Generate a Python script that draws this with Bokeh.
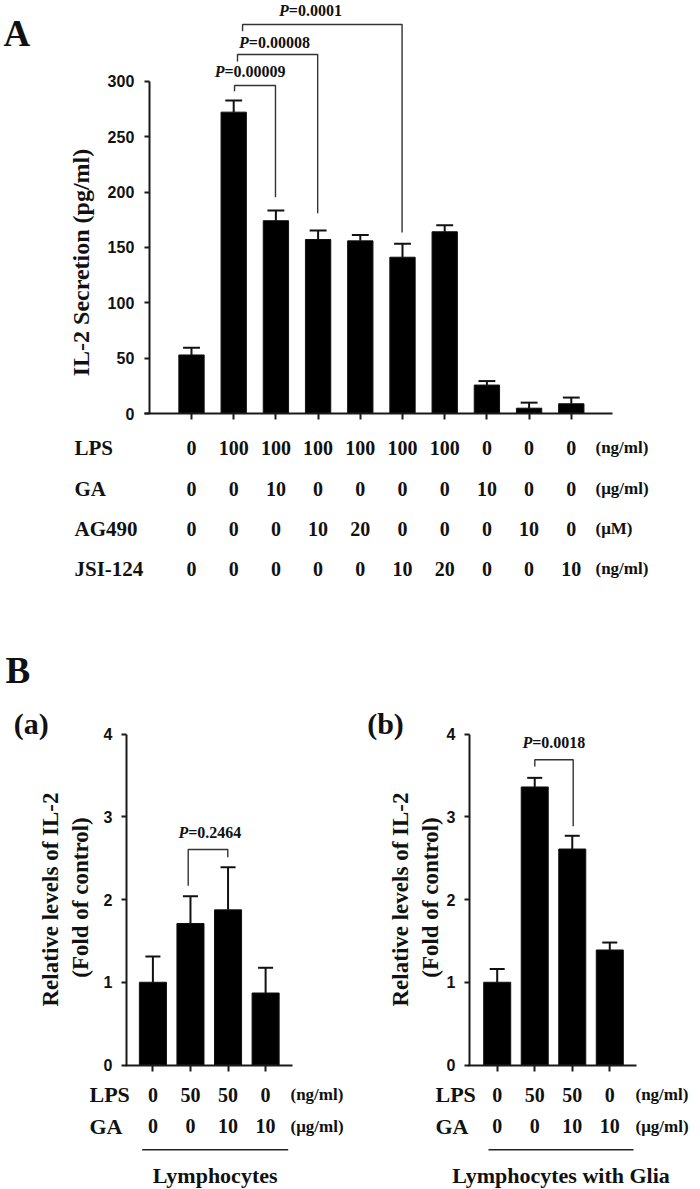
import math
from bokeh.plotting import figure
from bokeh.layouts import column, row
from bokeh.models import Range1d, FixedTicker, ColumnDataSource
from bokeh.core.properties import value
from bokeh.embed import file_html
from bokeh.resources import INLINE

# ---------------- data ----------------
# Panel A: IL-2 secretion (pg/ml)
a_cats = list(range(10))
a_il2 = [52.9, 272.3, 174.2, 157.2, 156.0, 141.2, 164.2, 25.7, 4.8, 8.8]
a_err = [6.4, 10.5, 9.2, 8.2, 5.2, 12.1, 6.0, 3.6, 5.0, 5.6]
a_yticks = [0, 50, 100, 150, 200, 250, 300]
a_rows = ["LPS", "GA", "AG490", "JSI-124"]
a_lps = ["0", "100", "100", "100", "100", "100", "100", "0", "0", "0"]
a_ga = ["0", "0", "10", "0", "0", "0", "0", "10", "0", "0"]
a_ag490 = ["0", "0", "0", "10", "20", "0", "0", "0", "10", "0"]
a_jsi = ["0", "0", "0", "0", "0", "10", "20", "0", "0", "10"]
a_units = ["(ng/ml)", "(\u03bcg/ml)", "(\u03bcM)", "(ng/ml)"]
a_pvals = ["=0.00009", "=0.00008", "=0.0001"]
a_pairs = [(1, 2), (1, 3), (1, 5)]

# Panel B: relative IL-2 levels (fold of control)
b_cats = [0, 1, 2, 3]
ba_vals = [1.00, 1.71, 1.875, 0.87]
ba_err = [0.31, 0.33, 0.515, 0.305]
bb_vals = [1.00, 3.36, 2.61, 1.39]
bb_err = [0.16, 0.11, 0.16, 0.09]
b_yticks = [0, 1, 2, 3, 4]
b_rows = ["LPS", "GA"]
b_lps = ["0", "50", "50", "0"]
b_ga = ["0", "0", "10", "10"]
b_units = ["(ng/ml)", "(\u03bcg/ml)"]
ba_pval = "=0.2464"
bb_pval = "=0.0018"
ba_group = "Lymphocytes"
bb_group = "Lymphocytes with Glia"

SERIF = value("Liberation Serif")
SANS = "Liberation Sans"
INK = "#111111"


def make_fig(w, h, xr, yr):
    p = figure(width=w, height=h, x_range=Range1d(*xr), y_range=Range1d(*yr),
               output_backend="svg", toolbar_location=None,
               min_border=0, min_border_left=0, min_border_right=0,
               min_border_top=0, min_border_bottom=0)
    p.outline_line_color = None
    p.xgrid.visible = False
    p.ygrid.visible = False
    p.background_fill_color = "white"
    p.border_fill_color = "white"
    return p


def style_axes(p, xloc, yloc, xbounds, ybounds, xticks, yticks, tick_size, standoff):
    ya = p.yaxis[0]
    ya.fixed_location = yloc
    ya.bounds = ybounds
    ya.ticker = FixedTicker(ticks=yticks)
    ya.major_label_text_font = SANS
    ya.major_label_text_font_style = "bold"
    ya.major_label_text_font_size = tick_size
    ya.major_label_text_color = INK
    ya.major_label_standoff = standoff
    ya.major_tick_out = 5
    ya.major_tick_in = 0
    ya.minor_tick_line_color = None
    ya.axis_line_width = 2
    ya.major_tick_line_width = 2
    ya.axis_line_color = "#1a1a1a"
    ya.major_tick_line_color = "#1a1a1a"
    xa = p.xaxis[0]
    xa.fixed_location = xloc
    xa.bounds = xbounds
    xa.ticker = FixedTicker(ticks=xticks)
    xa.major_label_overrides = {t: "" for t in xticks}
    xa.major_tick_out = 6
    xa.major_tick_in = 0
    xa.minor_tick_line_color = None
    xa.axis_line_width = 2
    xa.major_tick_line_width = 2
    xa.axis_line_color = "#1a1a1a"
    xa.major_tick_line_color = "#1a1a1a"


def bars_with_err(p, cats, vals, errs, width, cap):
    p.vbar(x=cats, top=vals, bottom=0, width=width, fill_color="black", line_color=INK)
    tops = [v + e for v, e in zip(vals, errs)]
    p.segment(x0=cats, y0=vals, x1=cats, y1=tops, line_color=INK, line_width=2)
    p.segment(x0=[c - cap for c in cats], y0=tops, x1=[c + cap for c in cats], y1=tops,
              line_color=INK, line_width=2)


def pval(p, x, y, rest, size):
    p.text(x=[x], y=[y], text=["P"], text_font=SERIF, text_font_style="bold italic",
           text_font_size=size, text_align="right", text_baseline="middle", text_color=INK)
    p.text(x=[x], y=[y], text=[rest], text_font=SERIF, text_font_style="bold",
           text_font_size=size, text_align="left", text_baseline="middle", text_color=INK)


# ---------------- Panel A ----------------
# page-pixel -> data mapping for panel A
AX0, ADX, AY0, ADY = 191.0, 42.2, 413.0, 1.1067
ax = lambda px: (px - AX0) / ADX
ay = lambda py: (AY0 - py) / ADY

pA = make_fig(700, 630, (ax(0), ax(700)), (ay(630), ay(0)))
style_axes(pA, 0, -1, (ax(144), ax(612)), (0, 300), a_cats, a_yticks, "16px", 10)
bars_with_err(pA, a_cats, a_il2, a_err, 0.6, 0.2)

# significance brackets (left-leg x offsets, level, leg bottoms)
a_br_left = [1.02, 1.09, 1.21]
a_br_level = [ay(85), ay(54), ay(24)]
a_br_lbot = [ay(90.7), ay(61), ay(30.7)]
a_br_rbot = [ay(196.7), ay(212.7), ay(232)]
xs, ys = [], []
for (l, r), xl, lv, lb, rb in zip(a_pairs, a_br_left, a_br_level, a_br_lbot, a_br_rbot):
    xr_ = r - 0.01
    xs.append([xl, xl, xr_, xr_])
    ys.append([lb, lv, lv, rb])
pA.multi_line(xs=xs, ys=ys, line_color="#333333", line_width=1.4)
a_p_anchor = [ax(224), ax(248.3), ax(288.3)]
a_p_y = [ay(71), ay(41.7), ay(10)]
for xa_, ya_, t in zip(a_p_anchor, a_p_y, a_pvals):
    pval(pA, xa_, ya_, t, "16px")

# Panel letter and y label
pA.text(x=[ax(3)], y=[ay(33)], text=["A"], text_font=SERIF, text_font_style="bold",
        text_font_size="37px", text_align="left", text_baseline="alphabetic", text_color=INK)
pA.text(x=[ax(80)], y=[ay(262)], text=["IL-2 Secretion (pg/ml)"], angle=math.pi / 2,
        text_font=SERIF, text_font_style="bold", text_font_size="24px",
        text_align="center", text_baseline="middle", text_color=INK)

# treatment table
a_row_y = [ay(447.3), ay(488.3), ay(528.3), ay(568.3)]
tx, ty, tt = [], [], []
for rv, vals in zip(a_row_y, [a_lps, a_ga, a_ag490, a_jsi]):
    for c, v in zip(a_cats, vals):
        tx.append(c); ty.append(rv); tt.append(v)
pA.text(x="x", y="y", text="t", source=ColumnDataSource(dict(x=tx, y=ty, t=tt)),
        text_font=SERIF, text_font_style="bold", text_font_size="20px",
        text_align="center", text_baseline="middle", text_color=INK)
pA.text(x=[ax(74)] * 4, y=a_row_y, text=a_rows, text_font=SERIF, text_font_style="bold",
        text_font_size="21px", text_align="left", text_baseline="middle", text_color=INK)
pA.text(x=[ax(595)] * 4, y=a_row_y, text=a_units, text_font=SERIF, text_font_style="bold",
        text_font_size="17px", text_align="left", text_baseline="middle", text_color=INK)


# ---------------- Panel B ----------------
BY0, BDY = 1064.5, 82.75
by = lambda py: (BY0 - py) / BDY
B_TOP, B_BOT = 630, 1189


def panel_b(page_left, page_right, x0, dx, vals, errs, axis_px, axis_end_px,
            br, ptext, p_anchor_px, p_y_px, tag, tag_px, lab1_px, lab2_px,
            lps_px, unit_px, line_px, group, with_B):
    bx = lambda px: (px - x0) / dx
    p = make_fig(page_right - page_left, B_BOT - B_TOP, (bx(page_left), bx(page_right)),
                 (by(B_BOT), by(B_TOP)))
    style_axes(p, 0, bx(axis_px), (bx(axis_px - 1), bx(axis_end_px)), (0, 4), b_cats, b_yticks, "16px", 9)
    bars_with_err(p, b_cats, vals, errs, 0.72, 0.2)
    (xl, xr_, lv, lb, rb) = br
    p.multi_line(xs=[[bx(xl), bx(xl), bx(xr_), bx(xr_)]], ys=[[by(lb), by(lv), by(lv), by(rb)]],
                 line_color="#333333", line_width=1.4)
    pval(p, bx(p_anchor_px), by(p_y_px), ptext, "16px")
    p.text(x=[bx(tag_px)], y=[by(723)], text=[tag], text_font=SERIF, text_font_style="bold",
           text_font_size="30px", text_align="left", text_baseline="alphabetic", text_color=INK)
    if with_B:
        p.text(x=[bx(5)], y=[by(670)], text=["B"], text_font=SERIF, text_font_style="bold",
               text_font_size="37px", text_align="left", text_baseline="alphabetic", text_color=INK)
    p.text(x=[bx(lab1_px), bx(lab2_px)], y=[by(899), by(897)],
           text=["Relative levels of IL-2", "(Fold of control)"], angle=math.pi / 2,
           text_font=SERIF, text_font_style="bold", text_font_size="23px",
           text_align="center", text_baseline="middle", text_color=INK)
    row_y = [by(1094), by(1125.7)]
    tx, ty, tt = [], [], []
    for rv, vv in zip(row_y, [b_lps, b_ga]):
        for c, v in zip(b_cats, vv):
            tx.append(c); ty.append(rv); tt.append(v)
    p.text(x="x", y="y", text="t", source=ColumnDataSource(dict(x=tx, y=ty, t=tt)),
           text_font=SERIF, text_font_style="bold", text_font_size="20px",
           text_align="center", text_baseline="middle", text_color=INK)
    p.text(x=[bx(lps_px)] * 2, y=row_y, text=b_rows, text_font=SERIF, text_font_style="bold",
           text_font_size="22px", text_align="left", text_baseline="middle", text_color=INK)
    p.text(x=[bx(unit_px)] * 2, y=row_y, text=b_units, text_font=SERIF, text_font_style="bold",
           text_font_size="17px", text_align="left", text_baseline="middle", text_color=INK)
    p.segment(x0=[bx(line_px[0])], y0=[by(1149.3)], x1=[bx(line_px[1])], y1=[by(1149.3)],
              line_color="#222222", line_width=1.5)
    p.text(x=[bx((line_px[0] + line_px[1]) / 2)], y=[by(1175)], text=[group], text_font=SERIF,
           text_font_style="bold", text_font_size="22px", text_align="center",
           text_baseline="middle", text_color=INK)
    return p


pBa = panel_b(0, 350, 152.4, 37.57, ba_vals, ba_err, 126, 291.7,
              (187.7, 227.3, 849, 885.3, 856.7), ba_pval, 187.7, 831.7,
              "(a)", 13.3, 50, 80, 89, 290, (141.7, 287.7), ba_group, True)
pBb = panel_b(350, 700, 496.7, 37.53, bb_vals, bb_err, 469, 635.7,
              (534.3, 572.7, 759.3, 766, 825.7), bb_pval, 531.7, 741.7,
              "(b)", 366.7, 400, 430, 435, 635, (488, 633), bb_group, False)

layout = column(pA, row(pBa, pBb, spacing=0), spacing=0)
open("out.html", "w").write(file_html(layout, INLINE))
